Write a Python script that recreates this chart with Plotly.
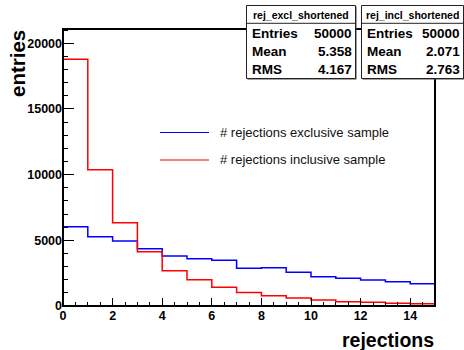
import plotly.graph_objects as go

# ---------------- data ----------------
bin_edges = [0, 1, 2, 3, 4, 5, 6, 7, 8, 9, 10, 11, 12, 13, 14, 15]
excl_counts = [6040, 5280, 4950, 4365, 3808, 3605, 3478, 2870, 2920, 2564, 2234, 2107, 1980, 1853, 1701]
incl_counts = [18790, 10380, 6345, 4137, 2690, 2006, 1421, 1030, 787, 609, 457, 330, 290, 203, 180]

series_labels = ["# rejections exclusive sample", "# rejections inclusive sample"]
stats_titles = ["rej_excl_shortened", "rej_incl_shortened"]
stats_names = ["Entries", "Mean", "RMS"]
stats_values = [["50000", "5.358", "4.167"], ["50000", "2.071", "2.763"]]

x_title = "rejections"
y_title = "entries"

# ---------------- layout helpers ----------------
W, H = 464, 350
L, R, T, B = 63, 435, 29, 306
FONT = "Liberation Sans"


def px(x):
    return (x - L) / (R - L)


def py(y):
    return (B - y) / (B - T)


fig = go.Figure()
colors = ["#0000ff", "#ff0000"]
for counts, color, name in zip([excl_counts, incl_counts], colors, series_labels):
    fig.add_trace(go.Scatter(
        x=bin_edges,
        y=counts + [counts[-1]],
        mode="lines",
        line=dict(color=color, width=1.5, shape="hv"),
        name=name,
        showlegend=False,
        hoverinfo="skip",
    ))

shapes = []
annotations = []

# plot frame
shapes.append(dict(type="rect", xref="paper", yref="paper", x0=0, x1=1, y0=0, y1=1,
                   line=dict(color="black", width=2), fillcolor="rgba(0,0,0,0)", layer="above"))

# manual legend (ROOT TLegend style, no border)
leg_y = [132.5, 160]
for color, name, yy in zip(colors, series_labels, leg_y):
    shapes.append(dict(type="line", xref="paper", yref="paper",
                       x0=px(160), x1=px(209), y0=py(yy), y1=py(yy),
                       line=dict(color=color, width=1.2), layer="above"))
    annotations.append(dict(xref="paper", yref="paper", x=px(219), y=py(yy),
                            xanchor="left", yanchor="middle", showarrow=False,
                            text=name, font=dict(family=FONT, size=13, color="#111"),
                            borderpad=0))

# stats boxes
boxes = [(246.5, 355.5), (361.5, 463.5)]
for (bx0, bx1), title, vals in zip(boxes, stats_titles, stats_values):
    # shadow
    shapes.append(dict(type="rect", xref="paper", yref="paper",
                       x0=px(bx0 + 1), x1=px(bx1 + 1), y0=py(79.5), y1=py(6.5),
                       line=dict(width=0), fillcolor="#444", layer="above"))
    shapes.append(dict(type="rect", xref="paper", yref="paper",
                       x0=px(bx0), x1=px(bx1), y0=py(78.5), y1=py(5.5),
                       line=dict(color="#222", width=1), fillcolor="white", layer="above"))
    shapes.append(dict(type="line", xref="paper", yref="paper",
                       x0=px(bx0), x1=px(bx1), y0=py(23.3), y1=py(23.3),
                       line=dict(color="#222", width=1), layer="above"))
    annotations.append(dict(xref="paper", yref="paper", x=px((bx0 + bx1) / 2), y=py(15),
                            xanchor="center", yanchor="middle", showarrow=False,
                            text="<b>" + title + "</b>", font=dict(family=FONT, size=10.5, color="black"),
                            borderpad=0))
    for name, v, yy in zip(stats_names, vals, [33.3, 51.5, 69.8]):
        annotations.append(dict(xref="paper", yref="paper", x=px(bx0 + 4), y=py(yy),
                                xanchor="left", yanchor="middle", showarrow=False,
                                text="<b>" + name + "</b>", font=dict(family=FONT, size=13.5, color="black"),
                                borderpad=0))
        annotations.append(dict(xref="paper", yref="paper", x=px(bx1 - 3), y=py(yy),
                                xanchor="right", yanchor="middle", showarrow=False,
                                text="<b>" + v + "</b>", font=dict(family=FONT, size=13.5, color="black"),
                                borderpad=0))

# axis titles (ROOT style: aligned to end of axis)
annotations.append(dict(xref="paper", yref="paper", x=px(435), y=py(340),
                        xanchor="right", yanchor="middle", showarrow=False,
                        text="<b>" + x_title + "</b>", font=dict(family=FONT, size=19.5, color="black"),
                        borderpad=0))
annotations.append(dict(xref="paper", yref="paper", x=px(17.5), y=py(29),
                        xanchor="center", yanchor="top", showarrow=False, textangle=-90,
                        text="<b>" + y_title + "</b>", font=dict(family=FONT, size=20.5, color="black"),
                        borderpad=0))

tickfont = dict(family=FONT, size=12.5, color="black", weight="bold")
fig.update_layout(
    width=W, height=H,
    margin=dict(l=L, r=W - R, t=T, b=H - B),
    paper_bgcolor="white", plot_bgcolor="white",
    showlegend=False,
    shapes=shapes,
    annotations=annotations,
    xaxis=dict(range=[0, 15], showgrid=False, zeroline=False, showline=False,
               ticks="inside", ticklen=8, tickwidth=1, tickcolor="black",
               dtick=2, tick0=0, tickformat="d",
               minor=dict(dtick=0.5, ticks="inside", ticklen=4, tickcolor="black", tickwidth=1),
               tickfont=tickfont),
    yaxis=dict(range=[0, 21090], showgrid=False, zeroline=False, showline=False,
               ticks="inside", ticklen=11, tickwidth=1, tickcolor="black",
               dtick=5000, tick0=0, tickformat="d", exponentformat="none",
               minor=dict(dtick=1000, ticks="inside", ticklen=5, tickcolor="black", tickwidth=1),
               tickfont=tickfont),
)

fig.write_html("out.html")
